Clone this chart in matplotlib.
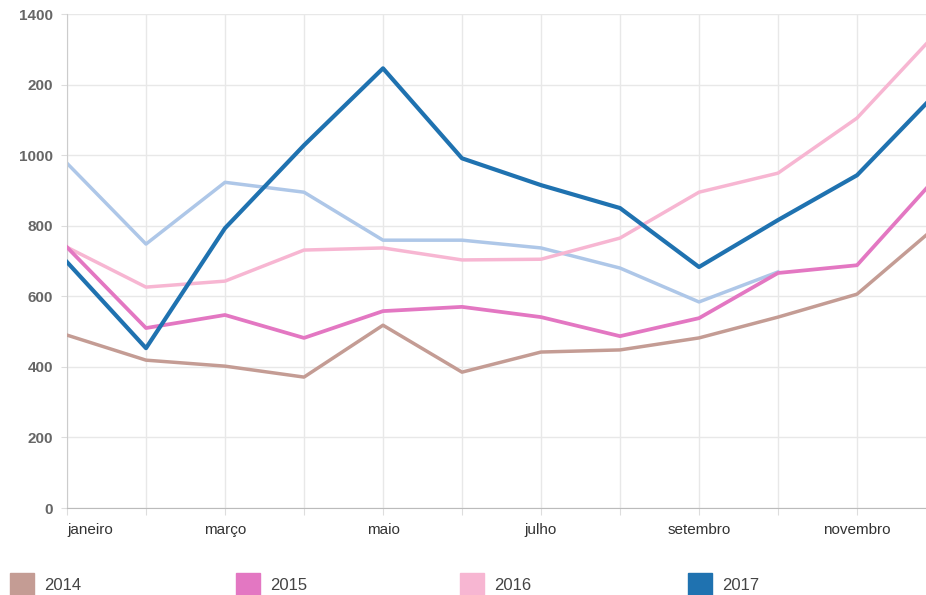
import matplotlib
matplotlib.use("Agg")
import matplotlib.pyplot as plt
from matplotlib.patches import Rectangle
from matplotlib.transforms import ScaledTranslation

plt.rcParams['font.family'] = ['Liberation Sans', 'DejaVu Sans']

meses = ['janeiro', 'fevereiro', 'março', 'abril', 'maio', 'junho', 'julho',
         'agosto', 'setembro', 'outubro', 'novembro', 'dezembro']

v2014 = [490, 419, 402, 371, 518, 385, 442, 448, 482, 541, 606, 797]
v2015 = [739, 510, 547, 482, 558, 570, 541, 487, 538, 666, 688, 936]
v2016 = [739, 626, 643, 731, 737, 703, 705, 765, 895, 949, 1105, 1345]
v2017 = [697, 453, 793, 1028, 1246, 991, 915, 850, 683, 816, 943, 1175]
v2018 = [977, 748, 923, 895, 759, 759, 737, 680, 584, 669]

cores = {'2014': '#c49c94', '2015': '#e377c2', '2016': '#f7b6d2',
         '2017': '#1f72b0', '2018': '#aec7e8'}

fig = plt.figure(figsize=(9.26, 5.95), dpi=100)
ax = fig.add_axes([67 / 926, 87 / 595, (926 - 67) / 926, 494 / 595])

x = list(range(12))
ax.plot(range(len(v2018)), v2018, color=cores['2018'], lw=2.5, zorder=2)
ax.plot(x, v2016, color=cores['2016'], lw=2.5, zorder=3)
ax.plot(x, v2014, color=cores['2014'], lw=2.5, zorder=3)
ax.plot(x, v2015, color=cores['2015'], lw=2.7, zorder=4)
ax.plot(x, v2017, color=cores['2017'], lw=3.0, zorder=5)

ax.set_xticks(x)
ax.set_xticklabels([m if i % 2 == 0 else '' for i, m in enumerate(meses)],
                   fontsize=11, color='#333333')
ax.get_xticklabels()[0].set_horizontalalignment('left')
ax.set_yticks(range(0, 1401, 200))
ax.set_yticklabels(['0', '200', '400', '600', '800', '1000', '200', '1400'],
                   fontsize=11, fontweight='bold', color='#666666')
# o eixo termina pouco antes de dezembro
ax.set_xlim(0, (926 - 67) / 79)
ax.set_ylim(0, 1400)

zero = ax.get_yticklabels()[0]
zero.set_transform(zero.get_transform() +
                   ScaledTranslation(0, 9 / 100, fig.dpi_scale_trans))

ax.tick_params(axis='x', length=5, color='#dddddd', pad=6)
ax.tick_params(axis='y', length=4, color='#dddddd', pad=6)
ax.grid(True, color='#e8e8e8', lw=1)
ax.set_axisbelow(True)
for lado in ['top', 'right']:
    ax.spines[lado].set_visible(False)
ax.spines['left'].set_color('#cccccc')
ax.spines['bottom'].set_color('#bbbbbb')

# legenda só com os quatro primeiros anos
anos = ['2014', '2015', '2016', '2017']
xs = [10, 236, 460, 688]
for ano, px in zip(anos, xs):
    fig.add_artist(Rectangle((px / 926, 0), 24 / 926, 22 / 595,
                             transform=fig.transFigure, color=cores[ano]))
    fig.text((px + 34) / 926, 10 / 595, ano, fontsize=12, color='#444444',
             va='center')

fig.savefig('out.png', dpi=100)
